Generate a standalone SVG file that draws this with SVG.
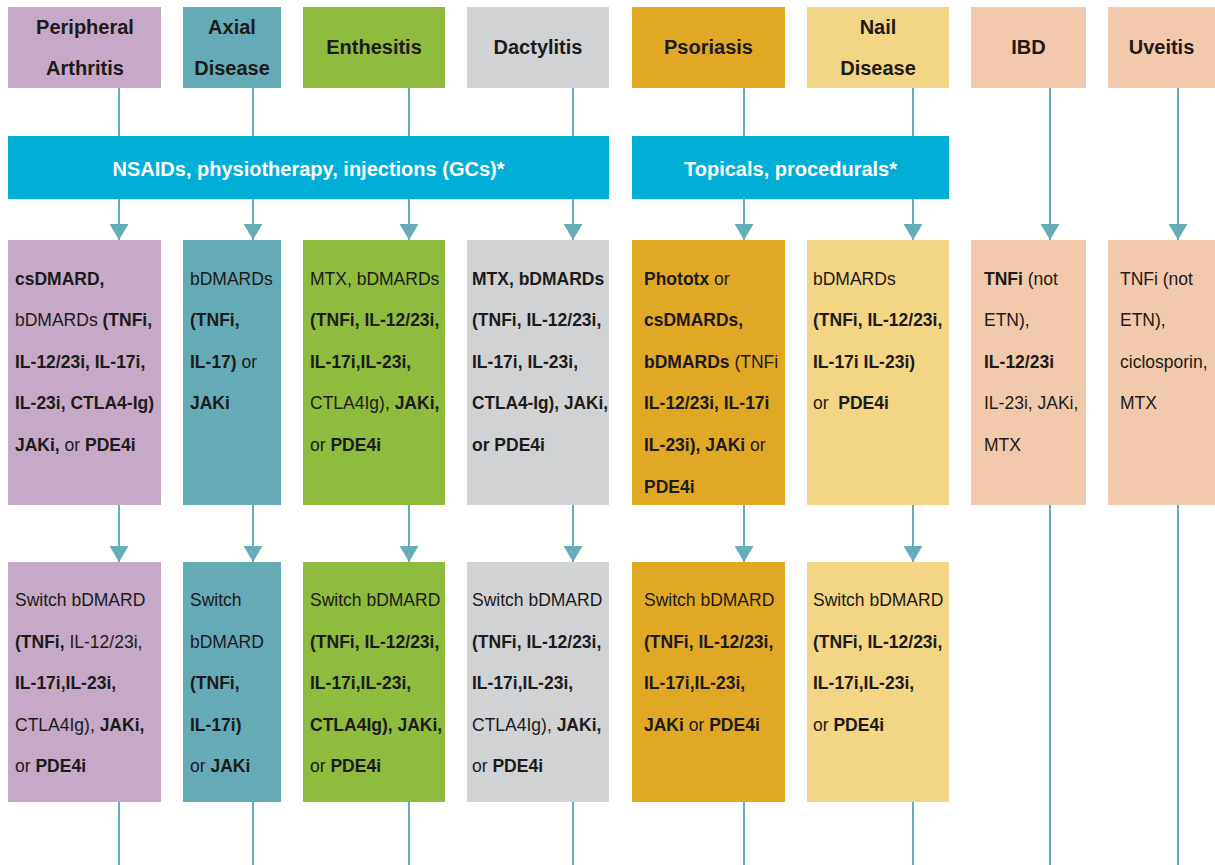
<svg xmlns="http://www.w3.org/2000/svg" width="1215" height="865" viewBox="0 0 1215 865">
  <defs>
    <style>
      .hd { font-family: "Liberation Sans", Arial, sans-serif; font-size: 20px; font-weight: bold; fill: #1c1a1a; text-anchor: middle; }
      .bar-t { font-family: "Liberation Sans", Arial, sans-serif; font-size: 20px; font-weight: bold; fill: #ffffff; text-anchor: middle; }
      .tx { font-family: "Liberation Sans", Arial, sans-serif; font-size: 17.5px; fill: #1c1a1a; }
      .b { font-weight: bold; }
      .pa { fill: #c5a9c6; }
      .ax { fill: #64abb6; }
      .en { fill: #8fbb3e; }
      .da { fill: #d1d2d4; }
      .ps { fill: #e1a826; }
      .na { fill: #f2d585; }
      .ib { fill: #f2c9aa; }
      .bar { fill: #00aed6; }
      .ln { stroke: #65adb8; stroke-width: 2; fill: none; }
      .arr { marker-end: url(#tip); }
    </style>
    <marker id="tip" markerUnits="userSpaceOnUse" viewBox="0 0 16 19" refX="16" refY="9.5" markerWidth="16" markerHeight="19" orient="auto">
      <path d="M0,0 L16,9.5 L0,19 Z" fill="#65adb8"/>
    </marker>
  </defs>

  <!-- connectors -->
  <g id="connectors">
    <!-- header to first-line bars -->
    <line class="ln" x1="119" y1="88" x2="119" y2="136"/>
    <line class="ln" x1="253" y1="88" x2="253" y2="136"/>
    <line class="ln" x1="409" y1="88" x2="409" y2="136"/>
    <line class="ln" x1="573" y1="88" x2="573" y2="136"/>
    <line class="ln" x1="744" y1="88" x2="744" y2="136"/>
    <line class="ln" x1="913" y1="88" x2="913" y2="136"/>
    <!-- bars to second-line boxes -->
    <line class="ln arr" x1="119" y1="199" x2="119" y2="240"/>
    <line class="ln arr" x1="253" y1="199" x2="253" y2="240"/>
    <line class="ln arr" x1="409" y1="199" x2="409" y2="240"/>
    <line class="ln arr" x1="573" y1="199" x2="573" y2="240"/>
    <line class="ln arr" x1="744" y1="199" x2="744" y2="240"/>
    <line class="ln arr" x1="913" y1="199" x2="913" y2="240"/>
    <line class="ln arr" x1="1050" y1="88" x2="1050" y2="240"/>
    <line class="ln arr" x1="1178" y1="88" x2="1178" y2="240"/>
    <!-- second-line to switch boxes -->
    <line class="ln arr" x1="119" y1="505" x2="119" y2="562"/>
    <line class="ln arr" x1="253" y1="505" x2="253" y2="562"/>
    <line class="ln arr" x1="409" y1="505" x2="409" y2="562"/>
    <line class="ln arr" x1="573" y1="505" x2="573" y2="562"/>
    <line class="ln arr" x1="744" y1="505" x2="744" y2="562"/>
    <line class="ln arr" x1="913" y1="505" x2="913" y2="562"/>
    <!-- continuing lines -->
    <line class="ln" x1="119" y1="802" x2="119" y2="865"/>
    <line class="ln" x1="253" y1="802" x2="253" y2="865"/>
    <line class="ln" x1="409" y1="802" x2="409" y2="865"/>
    <line class="ln" x1="573" y1="802" x2="573" y2="865"/>
    <line class="ln" x1="744" y1="802" x2="744" y2="865"/>
    <line class="ln" x1="913" y1="802" x2="913" y2="865"/>
    <line class="ln" x1="1050" y1="505" x2="1050" y2="865"/>
    <line class="ln" x1="1178" y1="505" x2="1178" y2="865"/>
  </g>

  <!-- header row -->
  <g id="hdr-peripheral">
    <rect class="pa" x="8" y="7" width="153" height="81"/>
    <text class="hd" x="85" y="34">Peripheral</text>
    <text class="hd" x="85" y="75">Arthritis</text>
  </g>
  <g id="hdr-axial">
    <rect class="ax" x="183" y="7" width="98" height="81"/>
    <text class="hd" x="232" y="34">Axial</text>
    <text class="hd" x="232" y="75">Disease</text>
  </g>
  <g id="hdr-enthesitis">
    <rect class="en" x="303" y="7" width="142" height="81"/>
    <text class="hd" x="374" y="54">Enthesitis</text>
  </g>
  <g id="hdr-dactylitis">
    <rect class="da" x="467" y="7" width="142" height="81"/>
    <text class="hd" x="538" y="54">Dactylitis</text>
  </g>
  <g id="hdr-psoriasis">
    <rect class="ps" x="632" y="7" width="153" height="81"/>
    <text class="hd" x="708.5" y="54">Psoriasis</text>
  </g>
  <g id="hdr-nail">
    <rect class="na" x="807" y="7" width="142" height="81"/>
    <text class="hd" x="878" y="34">Nail</text>
    <text class="hd" x="878" y="75">Disease</text>
  </g>
  <g id="hdr-ibd">
    <rect class="ib" x="971" y="7" width="115" height="81"/>
    <text class="hd" x="1028.5" y="54">IBD</text>
  </g>
  <g id="hdr-uveitis">
    <rect class="ib" x="1108" y="7" width="107" height="81"/>
    <text class="hd" x="1161.5" y="54">Uveitis</text>
  </g>

  <!-- first-line therapy bars -->
  <g id="bar-nsaids">
    <rect class="bar" x="8" y="136" width="601" height="63"/>
    <text class="bar-t" x="308.5" y="176">NSAIDs, physiotherapy, injections (GCs)*</text>
  </g>
  <g id="bar-topicals">
    <rect class="bar" x="632" y="136" width="317" height="63"/>
    <text class="bar-t" x="790.5" y="176">Topicals, procedurals*</text>
  </g>

  <!-- second-line boxes -->
  <g id="tx-peripheral">
    <rect class="pa" x="8" y="240" width="153" height="265"/>
    <text class="tx" x="15" y="284.5"><tspan class="b">csDMARD,</tspan></text>
    <text class="tx" x="15" y="326.1">bDMARDs <tspan class="b">(TNFi,</tspan></text>
    <text class="tx b" x="15" y="367.7">IL-12/23i, IL-17i,</text>
    <text class="tx b" x="15" y="409.3">IL-23i, CTLA4-Ig)</text>
    <text class="tx" x="15" y="450.9"><tspan class="b">JAKi,</tspan> or <tspan class="b">PDE4i</tspan></text>
  </g>
  <g id="tx-axial">
    <rect class="ax" x="183" y="240" width="98" height="265"/>
    <text class="tx" x="190" y="284.5">bDMARDs</text>
    <text class="tx b" x="190" y="326.1">(TNFi,</text>
    <text class="tx" x="190" y="367.7"><tspan class="b">IL-17)</tspan> or</text>
    <text class="tx b" x="190" y="409.3">JAKi</text>
  </g>
  <g id="tx-enthesitis">
    <rect class="en" x="303" y="240" width="142" height="265"/>
    <text class="tx" x="310" y="284.5">MTX, bDMARDs</text>
    <text class="tx b" x="310" y="326.1">(TNFi, IL-12/23i,</text>
    <text class="tx b" x="310" y="367.7">IL-17i,IL-23i,</text>
    <text class="tx" x="310" y="409.3">CTLA4Ig), <tspan class="b">JAKi,</tspan></text>
    <text class="tx" x="310" y="450.9">or <tspan class="b">PDE4i</tspan></text>
  </g>
  <g id="tx-dactylitis">
    <rect class="da" x="467" y="240" width="142" height="265"/>
    <text class="tx b" x="472" y="284.5">MTX, bDMARDs</text>
    <text class="tx b" x="472" y="326.1">(TNFi, IL-12/23i,</text>
    <text class="tx b" x="472" y="367.7">IL-17i, IL-23i,</text>
    <text class="tx b" x="472" y="409.3" textLength="136" lengthAdjust="spacingAndGlyphs">CTLA4-Ig), JAKi,</text>
    <text class="tx b" x="472" y="450.9">or PDE4i</text>
  </g>
  <g id="tx-psoriasis">
    <rect class="ps" x="632" y="240" width="153" height="265"/>
    <text class="tx" x="644" y="284.5"><tspan class="b">Phototx</tspan> or</text>
    <text class="tx b" x="644" y="326.1">csDMARDs,</text>
    <text class="tx" x="644" y="367.7"><tspan class="b">bDMARDs</tspan> (TNFi</text>
    <text class="tx b" x="644" y="409.3">IL-12/23i, IL-17i</text>
    <text class="tx" x="644" y="450.9"><tspan class="b">IL-23i), JAKi</tspan> or</text>
    <text class="tx b" x="644" y="492.5">PDE4i</text>
  </g>
  <g id="tx-nail">
    <rect class="na" x="807" y="240" width="142" height="265"/>
    <text class="tx" x="813" y="284.5">bDMARDs</text>
    <text class="tx b" x="813" y="326.1">(TNFi, IL-12/23i,</text>
    <text class="tx b" x="813" y="367.7">IL-17i IL-23i)</text>
    <text class="tx" x="813" y="409.3" xml:space="preserve">or  <tspan class="b">PDE4i</tspan></text>
  </g>
  <g id="tx-ibd">
    <rect class="ib" x="971" y="240" width="115" height="265"/>
    <text class="tx" x="984" y="284.5"><tspan class="b">TNFi</tspan> (not</text>
    <text class="tx" x="984" y="326.1">ETN),</text>
    <text class="tx b" x="984" y="367.7">IL-12/23i</text>
    <text class="tx" x="984" y="409.3">IL-23i, JAKi,</text>
    <text class="tx" x="984" y="450.9">MTX</text>
  </g>
  <g id="tx-uveitis">
    <rect class="ib" x="1108" y="240" width="107" height="265"/>
    <text class="tx" x="1120" y="284.5">TNFi (not</text>
    <text class="tx" x="1120" y="326.1">ETN),</text>
    <text class="tx" x="1120" y="367.7">ciclosporin,</text>
    <text class="tx" x="1120" y="409.3">MTX</text>
  </g>

  <!-- switch boxes -->
  <g id="sw-peripheral">
    <rect class="pa" x="8" y="562" width="153" height="240"/>
    <text class="tx" x="15" y="606">Switch bDMARD</text>
    <text class="tx" x="15" y="647.6"><tspan class="b">(TNFi,</tspan> IL-12/23i,</text>
    <text class="tx b" x="15" y="689.2">IL-17i,IL-23i,</text>
    <text class="tx" x="15" y="730.8">CTLA4Ig), <tspan class="b">JAKi,</tspan></text>
    <text class="tx" x="15" y="772.4">or <tspan class="b">PDE4i</tspan></text>
  </g>
  <g id="sw-axial">
    <rect class="ax" x="183" y="562" width="98" height="240"/>
    <text class="tx" x="190" y="606">Switch</text>
    <text class="tx" x="190" y="647.6">bDMARD</text>
    <text class="tx b" x="190" y="689.2">(TNFi,</text>
    <text class="tx b" x="190" y="730.8">IL-17i)</text>
    <text class="tx" x="190" y="772.4">or <tspan class="b">JAKi</tspan></text>
  </g>
  <g id="sw-enthesitis">
    <rect class="en" x="303" y="562" width="142" height="240"/>
    <text class="tx" x="310" y="606">Switch bDMARD</text>
    <text class="tx b" x="310" y="647.6">(TNFi, IL-12/23i,</text>
    <text class="tx b" x="310" y="689.2">IL-17i,IL-23i,</text>
    <text class="tx b" x="310" y="730.8">CTLA4Ig), JAKi,</text>
    <text class="tx" x="310" y="772.4">or <tspan class="b">PDE4i</tspan></text>
  </g>
  <g id="sw-dactylitis">
    <rect class="da" x="467" y="562" width="142" height="240"/>
    <text class="tx" x="472" y="606">Switch bDMARD</text>
    <text class="tx b" x="472" y="647.6">(TNFi, IL-12/23i,</text>
    <text class="tx b" x="472" y="689.2">IL-17i,IL-23i,</text>
    <text class="tx" x="472" y="730.8">CTLA4Ig), <tspan class="b">JAKi,</tspan></text>
    <text class="tx" x="472" y="772.4">or <tspan class="b">PDE4i</tspan></text>
  </g>
  <g id="sw-psoriasis">
    <rect class="ps" x="632" y="562" width="153" height="240"/>
    <text class="tx" x="644" y="606">Switch bDMARD</text>
    <text class="tx b" x="644" y="647.6">(TNFi, IL-12/23i,</text>
    <text class="tx b" x="644" y="689.2">IL-17i,IL-23i,</text>
    <text class="tx" x="644" y="730.8"><tspan class="b">JAKi</tspan> or <tspan class="b">PDE4i</tspan></text>
  </g>
  <g id="sw-nail">
    <rect class="na" x="807" y="562" width="142" height="240"/>
    <text class="tx" x="813" y="606">Switch bDMARD</text>
    <text class="tx b" x="813" y="647.6">(TNFi, IL-12/23i,</text>
    <text class="tx b" x="813" y="689.2">IL-17i,IL-23i,</text>
    <text class="tx" x="813" y="730.8">or <tspan class="b">PDE4i</tspan></text>
  </g>
</svg>
